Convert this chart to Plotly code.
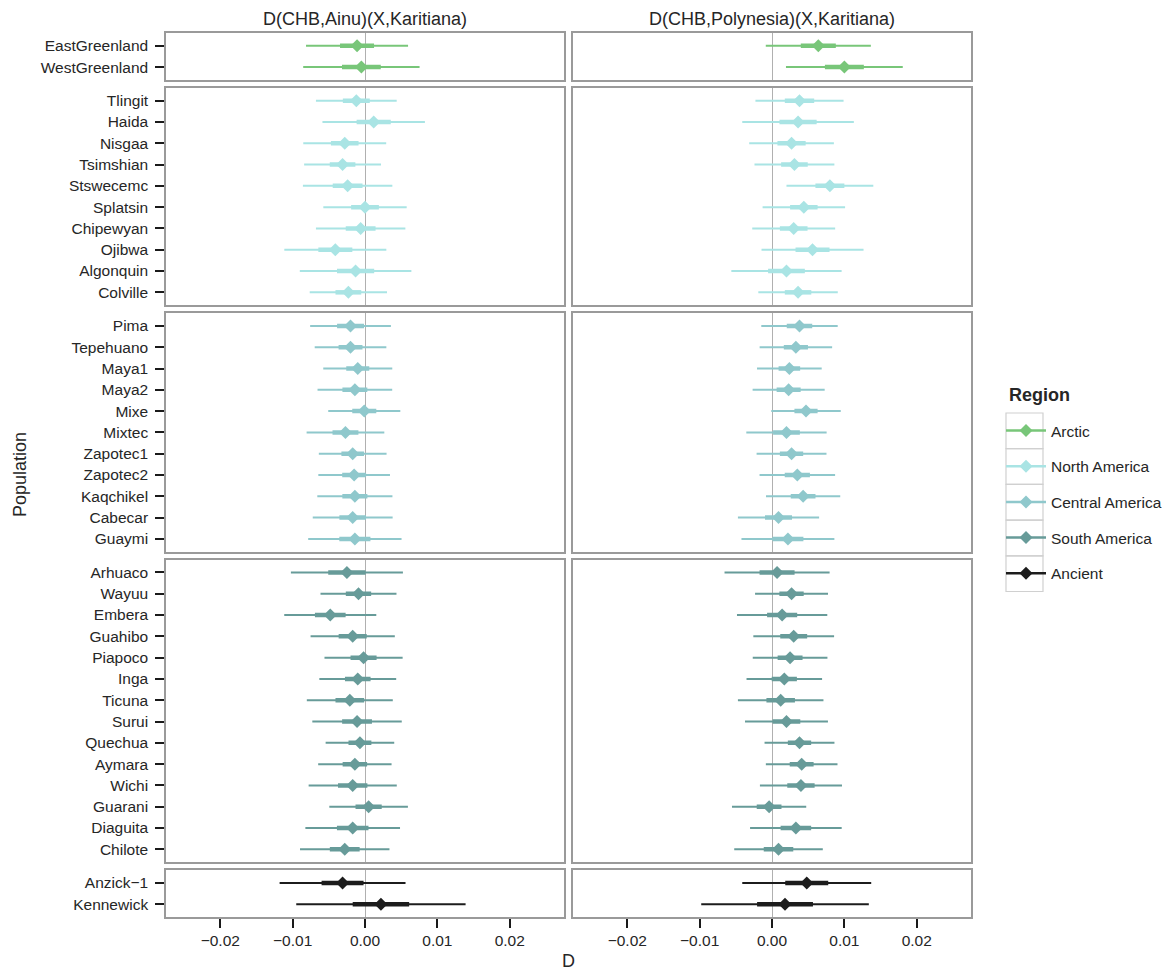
import plotly.graph_objects as go
from plotly.subplots import make_subplots

regions = ["Arctic", "North America", "Central America", "South America", "Ancient"]
region_colors = ["#78c679", "#a9e4e4", "#8fc8cc", "#679b99", "#1c1c1c"]

panel_titles = ["D(CHB,Ainu)(X,Karitiana)", "D(CHB,Polynesia)(X,Karitiana)"]

arctic_pops = ["EastGreenland", "WestGreenland"]
arctic_ainu_D = [-0.0011, -0.0005]
arctic_ainu_SE = [0.00235, 0.00268]
arctic_poly_D = [0.0064, 0.0100]
arctic_poly_SE = [0.00242, 0.00269]

na_pops = ["Tlingit", "Haida", "Nisgaa", "Tsimshian", "Stswecemc", "Splatsin",
           "Chipewyan", "Ojibwa", "Algonquin", "Colville"]
na_ainu_D = [-0.0012, 0.0012, -0.0028, -0.0031, -0.0024, 0.0000, -0.0006, -0.0041, -0.0013, -0.0023]
na_ainu_SE = [0.00186, 0.00236, 0.00191, 0.00177, 0.00206, 0.00192, 0.00206, 0.00235, 0.00257, 0.00178]
na_poly_D = [0.0038, 0.0036, 0.0027, 0.0031, 0.0080, 0.0044, 0.0030, 0.0056, 0.0020, 0.0036]
na_poly_SE = [0.00203, 0.00257, 0.00195, 0.00184, 0.00200, 0.00190, 0.00191, 0.00235, 0.00254, 0.00183]

ca_pops = ["Pima", "Tepehuano", "Maya1", "Maya2", "Mixe", "Mixtec", "Zapotec1",
           "Zapotec2", "Kaqchikel", "Cabecar", "Guaymi"]
ca_ainu_D = [-0.0020, -0.0020, -0.0010, -0.0014, -0.0001, -0.0027, -0.0017, -0.0015, -0.0014, -0.0017, -0.0014]
ca_ainu_SE = [0.00186, 0.00165, 0.00159, 0.00172, 0.00166, 0.00179, 0.00156, 0.00165, 0.00173, 0.00184, 0.00215]
ca_poly_D = [0.0038, 0.0033, 0.0024, 0.0023, 0.0047, 0.0020, 0.0027, 0.0035, 0.0043, 0.0009, 0.0022]
ca_poly_SE = [0.00176, 0.00167, 0.00149, 0.00166, 0.00160, 0.00185, 0.00161, 0.00174, 0.00171, 0.00187, 0.00214]

sa_pops = ["Arhuaco", "Wayuu", "Embera", "Guahibo", "Piapoco", "Inga", "Ticuna",
           "Surui", "Quechua", "Aymara", "Wichi", "Guarani", "Diaguita", "Chilote"]
sa_ainu_D = [-0.0025, -0.0009, -0.0048, -0.0017, -0.0002, -0.0010, -0.0021, -0.0011, -0.0007, -0.0014, -0.0017, 0.0005, -0.0017, -0.0028]
sa_ainu_SE = [0.00258, 0.00175, 0.00212, 0.00194, 0.00180, 0.00177, 0.00198, 0.00206, 0.00158, 0.00169, 0.00203, 0.00181, 0.00218, 0.00206]
sa_poly_D = [0.0007, 0.0027, 0.0014, 0.0030, 0.0025, 0.0017, 0.0012, 0.0020, 0.0038, 0.0041, 0.0040, -0.0004, 0.0033, 0.0009]
sa_poly_SE = [0.00242, 0.00168, 0.00208, 0.00186, 0.00172, 0.00174, 0.00197, 0.00191, 0.00161, 0.00165, 0.00189, 0.00171, 0.00211, 0.00204]

anc_pops = ["Anzick\u22121", "Kennewick"]
anc_ainu_D = [-0.0031, 0.0022]
anc_ainu_SE = [0.00290, 0.00390]
anc_poly_D = [0.0048, 0.0018]
anc_poly_SE = [0.00297, 0.00386]

x_tickvals = [-0.02, -0.01, 0.0, 0.01, 0.02]
x_ticktext = ["\u22120.02", "\u22120.01", "0.00", "0.01", "0.02"]
x_range = [-0.0275, 0.0275]

groups = [
    (arctic_pops, [(arctic_ainu_D, arctic_ainu_SE), (arctic_poly_D, arctic_poly_SE)]),
    (na_pops, [(na_ainu_D, na_ainu_SE), (na_poly_D, na_poly_SE)]),
    (ca_pops, [(ca_ainu_D, ca_ainu_SE), (ca_poly_D, ca_poly_SE)]),
    (sa_pops, [(sa_ainu_D, sa_ainu_SE), (sa_poly_D, sa_poly_SE)]),
    (anc_pops, [(anc_ainu_D, anc_ainu_SE), (anc_poly_D, anc_poly_SE)]),
]

W, H = 1173, 973
ML, MR, MT, MB = 166, 202, 33, 56
PW, PH = W - ML - MR, H - MT - MB

fig = make_subplots(
    rows=5, cols=2,
    row_heights=[len(g[0]) + 0.2 for g in groups],
    vertical_spacing=8 / PH,
    horizontal_spacing=9 / PW,
)

FONT = "Liberation Sans, Arial, Helvetica, sans-serif"
TXT = "#262626"

for r, ((pops, panels), color) in enumerate(zip(groups, region_colors), start=1):
    for c, (D, SE) in enumerate(panels, start=1):
        fig.add_trace(go.Scatter(
            x=D, y=pops, mode="markers",
            marker=dict(size=1, opacity=0, color=color),
            error_x=dict(type="data", array=[3 * s for s in SE], color=color,
                         thickness=2, width=0),
            showlegend=False, hoverinfo="skip"), row=r, col=c)
        fig.add_trace(go.Scatter(
            x=D, y=pops, mode="markers",
            marker=dict(symbol="diamond", size=10, color=color, line=dict(width=0)),
            error_x=dict(type="data", array=SE, color=color, thickness=4.5, width=0),
            showlegend=False), row=r, col=c)
        n = len(pops)
        fig.update_yaxes(
            type="category", categoryorder="array", categoryarray=pops,
            range=[n - 1 + 0.6, -0.6], showgrid=False, zeroline=False,
            showline=True, mirror=True, linecolor="#9a9a9a", linewidth=1.5,
            ticks="outside" if c == 1 else "", ticklen=9, tickwidth=2, tickcolor="#1a1a1a",
            ticklabelstandoff=4,
            showticklabels=(c == 1), tickfont=dict(size=15.5, color=TXT, family=FONT),
            row=r, col=c)
        fig.update_xaxes(
            range=x_range, showgrid=False,
            zeroline=True, zerolinecolor="#b0b0b0", zerolinewidth=1.2,
            showline=True, mirror=True, linecolor="#9a9a9a", linewidth=1.5,
            tickvals=x_tickvals, ticktext=x_ticktext,
            ticks="outside" if r == 5 else "", ticklen=9, tickwidth=2, tickcolor="#1a1a1a",
            showticklabels=(r == 5), tickfont=dict(size=15.5, color=TXT, family=FONT),
            row=r, col=c)

# legend entries
for name, color in zip(regions, region_colors):
    fig.add_trace(go.Scatter(
        x=[None], y=[None], mode="lines+markers", name=name, legendgroup=name,
        line=dict(color=color, width=2.5),
        marker=dict(symbol="diamond", size=10, color=color)), row=1, col=1)

# legend key boxes (ggplot-style key backgrounds)
key_top, key_h = 413, 35.7
for i in range(len(regions)):
    y0 = key_top + i * key_h
    fig.add_shape(type="rect", xref="paper", yref="paper",
                  x0=(1006 - ML) / PW, x1=(1043 - ML) / PW,
                  y0=(H - MB - y0) / PH, y1=(H - MB - y0 - key_h) / PH,
                  line=dict(color="#d0d0d0", width=1.2), fillcolor="rgba(0,0,0,0)",
                  layer="below")

# column titles
for c, title in enumerate(panel_titles, start=1):
    xa = "x domain" if c == 1 else "x2 domain"
    fig.add_annotation(text=title, xref=xa, yref="y domain", x=0.5, y=1,
                       xanchor="center", yanchor="bottom", yshift=2, showarrow=False,
                       font=dict(size=18, color=TXT, family=FONT))

fig.add_annotation(text="D", xref="paper", yref="paper", x=0.5, y=0,
                   xanchor="center", yanchor="top", yshift=-32, showarrow=False,
                   font=dict(size=18, color=TXT, family=FONT))
fig.add_annotation(text="Population", xref="paper", yref="paper", x=(20 - ML) / PW, y=0.5,
                   xanchor="center", yanchor="middle", textangle=-90, showarrow=False,
                   font=dict(size=18, color=TXT, family=FONT))
fig.add_annotation(text="<b>Region</b>", xref="paper", yref="paper",
                   x=(1007 - ML) / PW, y=(H - MB - 395) / PH,
                   xanchor="left", yanchor="middle", showarrow=False,
                   font=dict(size=18, color=TXT, family=FONT))

fig.update_layout(
    width=W, height=H, autosize=False,
    margin=dict(l=ML, r=MR, t=MT, b=MB, autoexpand=False),
    paper_bgcolor="white", plot_bgcolor="white",
    font=dict(family=FONT, color=TXT),
    showlegend=True,
    legend=dict(
        x=(1001 - ML) / PW, xanchor="left", y=(H - MB - 414) / PH, yanchor="top",
        font=dict(size=15.5, color=TXT, family=FONT),
        traceorder="grouped", tracegroupgap=12.5, itemwidth=40,
        bgcolor="rgba(0,0,0,0)"),
)

fig.write_html("out.html")
